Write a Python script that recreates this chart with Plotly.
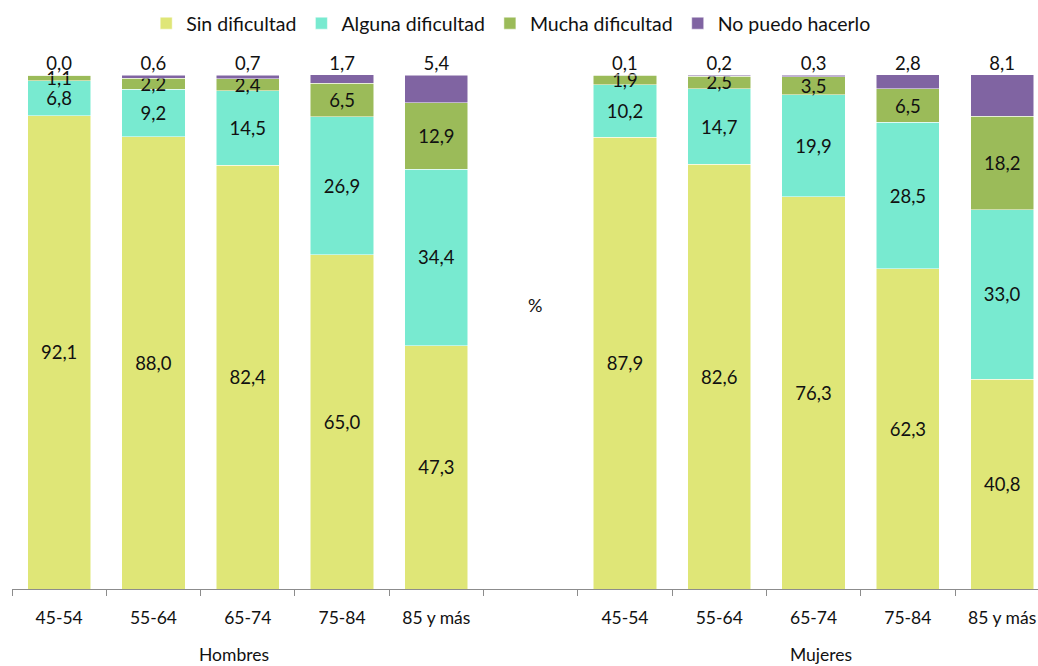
import plotly.graph_objects as go

age_groups = ["45-54", "55-64", "65-74", "75-84", "85 y más"]
groups = ["Hombres", "Mujeres"]
series_names = ["Sin dificultad", "Alguna dificultad", "Mucha dificultad", "No puedo hacerlo"]
colors = ["#DFE677", "#78EAD0", "#9BBB59", "#8064A2"]

sin_h = [92.1, 88.0, 82.4, 65.0, 47.3]
alguna_h = [6.8, 9.2, 14.5, 26.9, 34.4]
mucha_h = [1.1, 2.2, 2.4, 6.5, 12.9]
nopuedo_h = [0.0, 0.6, 0.7, 1.7, 5.4]

sin_m = [87.9, 82.6, 76.3, 62.3, 40.8]
alguna_m = [10.2, 14.7, 19.9, 28.5, 33.0]
mucha_m = [1.9, 2.5, 3.5, 6.5, 18.2]
nopuedo_m = [0.1, 0.2, 0.3, 2.8, 8.1]

FONT = "Lato"
INK = "#111111"
n = len(age_groups)
# Hombres at 0..4, empty slot at 5, Mujeres at 6..10
x_pos = list(range(n)) + [n + 1 + i for i in range(n)]
boundaries = [i - 0.5 for i in range(2 * n + 1)]

series = [
    sin_h + sin_m,
    alguna_h + alguna_m,
    mucha_h + mucha_m,
    nopuedo_h + nopuedo_m,
]
totals = [sum(v) for v in zip(*series)]


def fmt(v):
    return f"{v:.1f}".replace(".", ",")


fig = go.Figure()
for k, (name, vals) in enumerate(zip(series_names, series)):
    top = k == len(series) - 1
    fig.add_trace(go.Bar(
        x=x_pos,
        y=vals,
        name=name,
        width=0.67,
        marker=dict(color=colors[k], line=dict(color="white", width=0.5)),
        text=None if top else [fmt(v) for v in vals],
        textposition="none" if top else "inside",
        insidetextanchor="middle",
        textfont=dict(family=FONT, size=18.5, color=INK),
        cliponaxis=False,
        hoverinfo="skip",
    ))

# "No puedo hacerlo" values sit above each bar
fig.add_trace(go.Scatter(
    x=x_pos,
    y=totals,
    mode="text",
    text=[fmt(v) for v in series[-1]],
    textposition="top center",
    textfont=dict(family=FONT, size=18.5, color=INK),
    showlegend=False,
    cliponaxis=False,
    hoverinfo="skip",
))

fig.add_annotation(x=5.05, y=55.3, text="%", showarrow=False,
                   font=dict(family=FONT, size=18, color=INK))
for gx, g in zip([1.85, 8.08], groups):
    fig.add_annotation(x=gx, xref="x", y=-0.128, yref="paper", yanchor="middle",
                       text=g, showarrow=False,
                       font=dict(family=FONT, size=17.5, color=INK))

fig.update_layout(
    width=1038,
    height=666,
    barmode="stack",
    plot_bgcolor="white",
    paper_bgcolor="white",
    margin=dict(l=12, r=0, t=74, b=77, autoexpand=False),
    font=dict(family=FONT, size=17.5, color=INK),
    uniformtext=dict(minsize=18, mode="show"),
    legend=dict(
        orientation="h",
        xref="container", yref="container",
        x=0.492, xanchor="center",
        y=1 - 4 / 666, yanchor="top",
        font=dict(family=FONT, size=19.5, color=INK),
        traceorder="normal",
        itemclick=False,
    ),
    xaxis=dict(
        range=[-0.5, 10.38],
        tickmode="array",
        tickvals=x_pos,
        ticktext=age_groups + age_groups,
        ticks="outside",
        ticklen=13,
        tickcolor="rgba(0,0,0,0)",
        showline=True,
        linecolor="#8C8C8C",
        linewidth=1,
        showgrid=False,
        zeroline=False,
        tickfont=dict(family=FONT, size=17.5, color=INK),
        minor=dict(
            tickmode="array",
            tickvals=boundaries,
            ticks="outside",
            ticklen=6,
            tickcolor="#8C8C8C",
            showgrid=False,
        ),
    ),
    yaxis=dict(
        range=[0, 100.2],
        visible=False,
        showgrid=False,
        zeroline=False,
    ),
)

# drop the default page margin so the figure sits flush in the window
fig.write_html(
    "out.html",
    config={"displayModeBar": False},
    post_script="document.body.style.margin = '0';",
)
